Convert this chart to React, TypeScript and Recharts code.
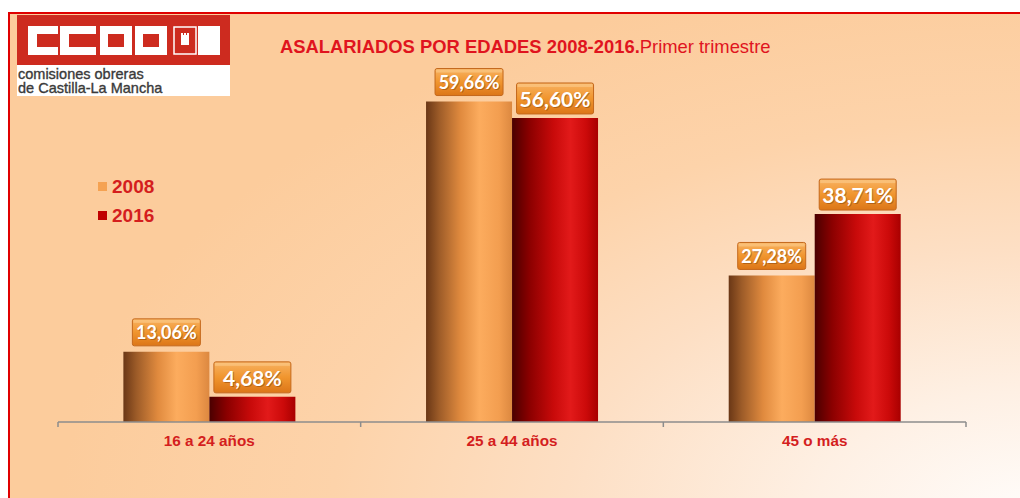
import React from 'react';
import { BarChart, Bar, XAxis, YAxis, LabelList } from 'recharts';

const categories = ['16 a 24 años', '25 a 44 años', '45 o más'];
const values2008 = [13.06, 59.66, 27.28];
const values2016 = [4.68, 56.6, 38.71];
const seriesNames = ['2008', '2016'];

const data = categories.map((c, i) => ({ name: c, s2008: values2008[i], s2016: values2016[i] }));

const W = 1020;
const H = 498;
const AXIS_H = 30;
const M = { top: 46, right: 54, left: 58, bottom: 76 - AXIS_H };
const HALF_BAND = (W - M.left - M.right) / categories.length / 2;

const fmt = (v: number) => v.toFixed(2).replace('.', ',') + '%';

const makeLabel = (big: boolean) => (props: any) => {
  const { x, y, width, value } = props;
  const bw = big ? 77 : 68;
  const bh = big ? 31 : 27;
  const gap = big ? 4 : 6;
  const cx = x + width / 2;
  const top = y - gap - bh;
  const fs = big ? 21 : 18;
  return (
    <g>
      <rect x={cx - bw / 2} y={top} width={bw} height={bh} rx={2} fill="url(#labelGrad)" stroke="#C4681C" strokeWidth={1} />
      <rect x={cx - bw / 2 + 1} y={top + 1} width={bw - 2} height={3} fill="#FCCB8A" opacity={0.6} />
      <text x={cx + 1} y={top + bh / 2 + 1} textAnchor="middle" dominantBaseline="central" fontFamily="Lato, 'Open Sans', sans-serif" fontWeight={700} fontSize={fs} fill="#7A3A08" opacity={0.45}>
        {fmt(value)}
      </text>
      <text x={cx} y={top + bh / 2} textAnchor="middle" dominantBaseline="central" fontFamily="Lato, 'Open Sans', sans-serif" fontWeight={700} fontSize={fs} fill="#FFFFFF">
        {fmt(value)}
      </text>
    </g>
  );
};

const CatTick = (props: any) => {
  const { x, y, payload, index } = props;
  return (
    <g>
      {index === 0 && <line x1={x - HALF_BAND} x2={x - HALF_BAND} y1={y} y2={y + 5} stroke="#8C8C8C" strokeWidth={1.5} />}
      <line x1={x + HALF_BAND} x2={x + HALF_BAND} y1={y} y2={y + 5} stroke="#8C8C8C" strokeWidth={1.5} />
      <text x={x} y={y + 24} textAnchor="middle" fontFamily="'Liberation Sans', Arial, sans-serif" fontWeight={700} fontSize={15.3} fill="#D41E1E">
        {payload.value}
      </text>
    </g>
  );
};

const LegendBox = () => (
  <div style={{ position: 'absolute', left: 98, top: 172, fontFamily: "'Liberation Sans', Arial, sans-serif" }}>
    {seriesNames.map((n, i) => (
      <div key={n} style={{ display: 'flex', alignItems: 'center', height: 29 }}>
        <span style={{ display: 'inline-block', width: 9, height: 9, background: i === 0 ? '#F5A252' : '#C00000', marginRight: 5 }} />
        <span style={{ fontSize: 19, fontWeight: 700, color: '#D41E1E' }}>{n}</span>
      </div>
    ))}
  </div>
);

const Logo = () => (
  <svg width={230} height={100} style={{ position: 'absolute', left: 0, top: 0 }}>
    <rect x={17} y={15} width={213} height={50} fill="#CD2B1F" />
    <rect x={17} y={65} width={213} height={31} fill="#FFFFFF" />
    <rect x={28} y={26} width={30} height={29} fill="#FFFFFF" />
    <rect x={37} y={34} width={21} height={13} fill="#CD2B1F" />
    <rect x={60} y={26} width={36} height={29} fill="#FFFFFF" />
    <rect x={69} y={34} width={27} height={13} fill="#CD2B1F" />
    <rect x={100} y={26} width={32} height={29} fill="#FFFFFF" />
    <rect x={108} y={34} width={16} height={13} fill="#CD2B1F" />
    <rect x={135} y={26} width={32} height={29} fill="#FFFFFF" />
    <rect x={143} y={34} width={16} height={13} fill="#CD2B1F" />
    <rect x={174} y={27} width={22} height={27} fill="none" stroke="#FFFFFF" strokeWidth={1.5} />
    <rect x={181} y={35} width={8} height={10} fill="#FFFFFF" />
    <rect x={181} y={33} width={2} height={2} fill="#FFFFFF" />
    <rect x={184} y={33} width={2} height={2} fill="#FFFFFF" />
    <rect x={187} y={33} width={2} height={2} fill="#FFFFFF" />
    <rect x={198} y={26} width={22} height={29} fill="#FFFFFF" />
    <text x={18} y={79} fontFamily="'Liberation Sans', Arial, sans-serif" fontSize={14.5} fill="#3A3A3A" stroke="#3A3A3A" strokeWidth={0.35}>comisiones obreras</text>
    <text x={18} y={93} fontFamily="'Liberation Sans', Arial, sans-serif" fontSize={14.5} fill="#3A3A3A" stroke="#3A3A3A" strokeWidth={0.35}>de Castilla-La Mancha</text>
  </svg>
);

export default function App() {
  return (
    <div style={{ position: 'absolute', left: 0, top: 0, width: W, height: H, overflow: 'hidden', background: '#FFFFFF' }}>
      <div
        style={{
          position: 'absolute',
          left: 8,
          top: 12,
          width: W,
          height: H,
          borderLeft: '2px solid #E00000',
          borderTop: '2px solid #E00000',
          background: 'radial-gradient(ellipse 95% 110% at 100% 100%, #FFFCFA 0%, #FEF0E4 22%, #FDDFC4 48%, #FDD3AA 72%, #FCCC9C 100%)',
        }}
      />
      <Logo />
      <div style={{ position: 'absolute', left: 280, top: 36, fontFamily: "'Liberation Sans', Arial, sans-serif", fontSize: 18.4, color: '#E0141E', whiteSpace: 'nowrap', lineHeight: '22px' }}>
        <span style={{ fontWeight: 700 }}>ASALARIADOS POR EDADES 2008-2016.</span>
        <span>Primer trimestre</span>
      </div>
      <LegendBox />
      <div style={{ position: 'absolute', left: 0, top: 0 }}>
        <BarChart width={W} height={H} data={data} margin={M} barCategoryGap="21.6%" barGap={0}>
          <defs>
            <linearGradient id="grad2008" x1="0" y1="0" x2="1" y2="0">
              <stop offset="0%" stopColor="#6A3716" />
              <stop offset="15%" stopColor="#9C5B28" />
              <stop offset="40%" stopColor="#E08A3E" />
              <stop offset="62%" stopColor="#FCAC5E" />
              <stop offset="85%" stopColor="#F39E50" />
              <stop offset="100%" stopColor="#DC8840" />
            </linearGradient>
            <linearGradient id="grad2016" x1="0" y1="0" x2="1" y2="0">
              <stop offset="0%" stopColor="#4A0000" />
              <stop offset="20%" stopColor="#8A0000" />
              <stop offset="48%" stopColor="#C80A0A" />
              <stop offset="68%" stopColor="#E21A1A" />
              <stop offset="86%" stopColor="#CC0A0A" />
              <stop offset="100%" stopColor="#A80000" />
            </linearGradient>
            <linearGradient id="labelGrad" x1="0" y1="0" x2="0" y2="1">
              <stop offset="0%" stopColor="#F8B262" />
              <stop offset="50%" stopColor="#F0952E" />
              <stop offset="100%" stopColor="#DC7618" />
            </linearGradient>
          </defs>
          <XAxis dataKey="name" height={AXIS_H} axisLine={{ stroke: '#8C8C8C', strokeWidth: 1.5 }} tickLine={false} tickSize={0} tickMargin={0} tick={<CatTick />} interval={0} />
          <YAxis hide domain={[0, 70]} />
          <Bar dataKey="s2008" name="2008" fill="url(#grad2008)" isAnimationActive={false}>
            <LabelList dataKey="s2008" content={makeLabel(false)} />
          </Bar>
          <Bar dataKey="s2016" name="2016" fill="url(#grad2016)" isAnimationActive={false}>
            <LabelList dataKey="s2016" content={makeLabel(true)} />
          </Bar>
        </BarChart>
      </div>
    </div>
  );
}
